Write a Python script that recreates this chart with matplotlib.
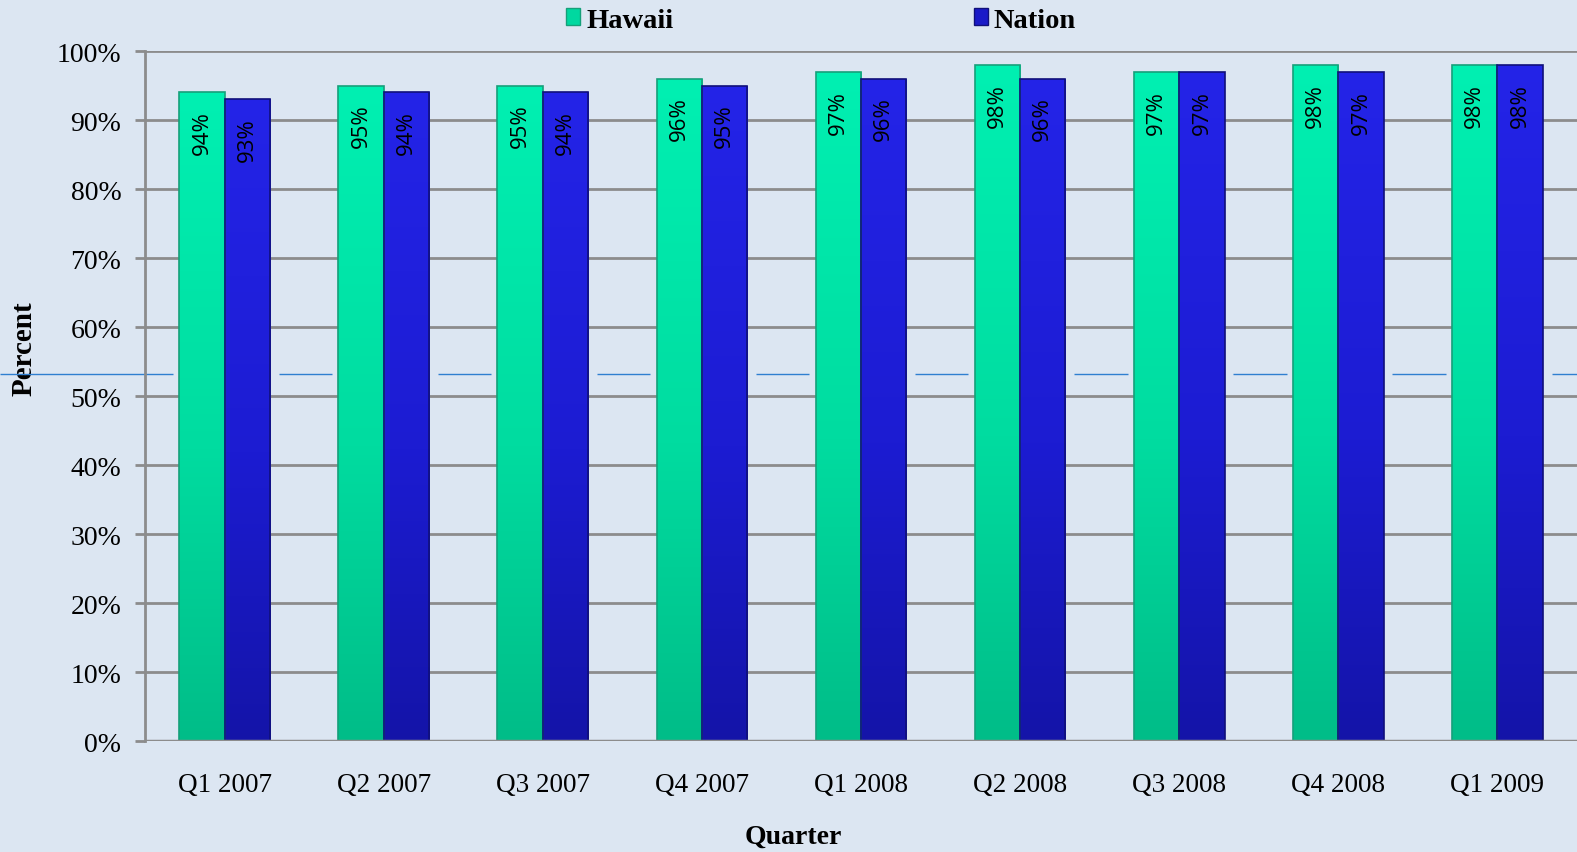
import matplotlib.pyplot as plt
import numpy as np
from matplotlib.colors import LinearSegmentedColormap
from matplotlib.patches import Patch
from matplotlib.ticker import FuncFormatter

quarters = ["Q1 2007", "Q2 2007", "Q3 2007", "Q4 2007", "Q1 2008",
            "Q2 2008", "Q3 2008", "Q4 2008", "Q1 2009"]
hawaii = [94, 95, 95, 96, 97, 98, 97, 98, 98]
nation = [93, 94, 94, 95, 96, 96, 97, 97, 98]
stray_line = 53.2

bg = "#dce6f2"
serif = ["Liberation Serif", "DejaVu Serif"]
sans = ["Open Sans", "DejaVu Sans"]

fig = plt.figure(figsize=(15.77, 8.53), dpi=100, facecolor=bg)
ax = fig.add_axes([0.092, 0.130, 0.908, 0.809])
ax.patch.set_facecolor("none")

x = np.arange(len(quarters))
w = 0.285

hawaii_cmap = LinearSegmentedColormap.from_list(
    "h", [(0, "#00bd88"), (0.45, "#00dca0"), (1, "#00f0b2")])
nation_cmap = LinearSegmentedColormap.from_list(
    "n", [(0, "#1414a8"), (0.45, "#1c1cd2"), (1, "#2424e8")])


def gradient_bars(xs, vals, cmap, edge):
    bars = ax.bar(xs, vals, w, color="none", edgecolor=edge, linewidth=1.2,
                  zorder=3)
    grad = np.linspace(0, 1, 256).reshape(-1, 1)
    for b in bars:
        x0, y0 = b.get_x(), b.get_y()
        im = ax.imshow(grad, cmap=cmap, aspect="auto", origin="lower",
                       extent=[x0, x0 + b.get_width(), y0, y0 + b.get_height()],
                       zorder=2.5)
        im.set_clip_path(b)
    return bars


gradient_bars(x - w / 2, hawaii, hawaii_cmap, "#16a07a")
gradient_bars(x + w / 2, nation, nation_cmap, "#10107a")

for xs, vals in [(x - w / 2, hawaii), (x + w / 2, nation)]:
    for xi, v in zip(xs, vals):
        ax.text(xi, v - 2.6, f"{v}%", rotation=90, ha="center", va="top",
                fontsize=16, family=sans, color="black", zorder=5)

ax.set_xlim(-0.5, len(quarters) - 0.5)
ax.set_ylim(0, 100)
ax.set_yticks(np.arange(0, 101, 10))
ax.yaxis.set_major_formatter(FuncFormatter(lambda v, p: f"{v:.0f}%"))
ax.set_xticks(x)
ax.set_xticklabels(quarters)
ax.grid(axis="y", color="#8c8c8c", linewidth=2, zorder=0)
ax.set_axisbelow(True)

for s in ["top", "right", "bottom"]:
    ax.spines[s].set_visible(False)
ax.spines["left"].set_color("#8c8c8c")
ax.spines["left"].set_linewidth(2)
ax.axhline(0, color="#8c8c8c", linewidth=2.5, zorder=4)

ax.tick_params(axis="y", length=7, width=2, color="#8c8c8c", pad=10,
               labelsize=20)
ax.tick_params(axis="x", length=0, pad=22, labelsize=19.5)
for lab in ax.get_xticklabels() + ax.get_yticklabels():
    lab.set_family(serif)

ax.set_ylabel("Percent", fontsize=21, fontweight="bold", family=serif)
ax.yaxis.set_label_coords(-0.075, 0.57)
ax.set_xlabel("Quarter", fontsize=20, fontweight="bold", family=serif)
ax.xaxis.set_label_coords(0.453, -0.12)

# stray horizontal line from the original slide, only visible between bars
x_fig_left = ax.transData.inverted().transform(
    fig.transFigure.transform((0, 0)))[0]
x_fig_right = ax.transData.inverted().transform(
    fig.transFigure.transform((1, 0)))[0]
seg_start = np.concatenate([[x_fig_left], x + w + 0.055])
seg_end = np.concatenate([x - w - 0.04, [x_fig_right]])
ax.hlines([stray_line] * len(seg_start), seg_start, seg_end,
          color="#2f7fd0", linewidth=1, clip_on=False, zorder=1)

handles = [Patch(facecolor="#00d8a0", edgecolor="#16a07a", label="Hawaii"),
           Patch(facecolor="#1a1ac8", edgecolor="#10107a", label="Nation")]
fig.legend(handles=handles, loc="center", ncol=2,
           bbox_to_anchor=(0.5205, 1 - 21 / 853), frameon=False,
           prop={"family": serif, "weight": "bold", "size": 20.5},
           handlelength=0.5, handleheight=0.5, handletextpad=0.2,
           columnspacing=10.55)

fig.savefig("out.png", dpi=100, facecolor=bg)
